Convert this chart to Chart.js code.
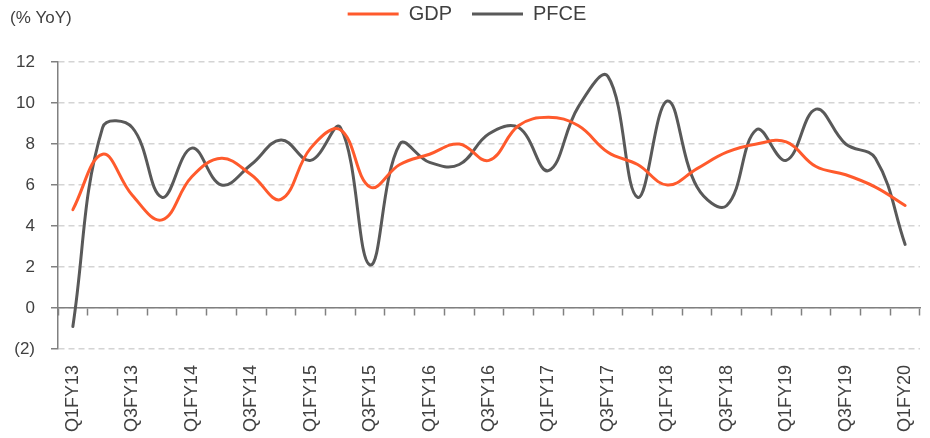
<!DOCTYPE html>
<html>
<head>
<meta charset="utf-8">
<title>GDP vs PFCE</title>
<script src="https://cdn.jsdelivr.net/npm/chart.js@4.4.1/dist/chart.umd.min.js"></script>
<style>
    html, body { margin: 0; padding: 0; background: #ffffff; }
    canvas { display: block; }
</style>
</head>
<body>
<canvas id="growthChart" width="930" height="438"></canvas>
<script>
const quarters = [
    "Q1FY13", "Q2FY13", "Q3FY13", "Q4FY13",
    "Q1FY14", "Q2FY14", "Q3FY14", "Q4FY14",
    "Q1FY15", "Q2FY15", "Q3FY15", "Q4FY15",
    "Q1FY16", "Q2FY16", "Q3FY16", "Q4FY16",
    "Q1FY17", "Q2FY17", "Q3FY17", "Q4FY17",
    "Q1FY18", "Q2FY18", "Q3FY18", "Q4FY18",
    "Q1FY19", "Q2FY19", "Q3FY19", "Q4FY19",
    "Q1FY20"
];

const gdp = [
    4.8, 7.5, 5.5, 4.3, 6.4, 7.3, 6.5, 5.3,
    7.8, 8.7, 5.9, 7.0, 7.5, 8.0, 7.2, 8.9,
    9.3, 8.9, 7.6, 7.0, 6.0, 6.8, 7.6, 8.0,
    8.1, 6.9, 6.5, 5.9, 5.0
];

const pfce = [
    -0.9, 8.8, 8.8, 5.4, 7.8, 6.0, 7.0, 8.2,
    7.2, 8.8, 2.1, 8.0, 7.1, 7.0, 8.5, 8.8,
    6.7, 9.8, 11.3, 5.4, 10.1, 5.9, 5.0, 8.7,
    7.2, 9.7, 8.0, 7.3, 3.1
];

const yMin = -2;
const yMax = 12;
const yStep = 2;

const textColor = "#404040";
const axisColor = "#808080";
const gridColor = "#d4d4d4";
const fontFamily = "'Liberation Sans', Arial, sans-serif";

Chart.defaults.font.family = fontFamily;
Chart.defaults.color = textColor;

// "(% YoY)" unit note, top left, same row as the legend
const unitLabel = {
    id: "unitLabel",
    afterDraw(chart) {
        const ctx = chart.ctx;
        ctx.save();
        ctx.font = "17px " + fontFamily;
        ctx.fillStyle = textColor;
        ctx.textBaseline = "middle";
        ctx.textAlign = "left";
        ctx.fillText("(% YoY)", 10, 18);
        ctx.restore();
    }
};

function formatTick(value) {
    return value < 0 ? `(${Math.abs(value)})` : String(value);
}

window.addEventListener("DOMContentLoaded", () => {
    const ctx = document.getElementById("growthChart").getContext("2d");

    new Chart(ctx, {
        type: "line",
        data: {
            labels: quarters,
            datasets: [
                {
                    label: "GDP",
                    data: gdp,
                    borderColor: "#ff5a2c",
                    backgroundColor: "#ff5a2c",
                    borderWidth: 3,
                    tension: 0.4,
                    pointRadius: 0,
                    borderCapStyle: "round",
                    borderJoinStyle: "round"
                },
                {
                    label: "PFCE",
                    data: pfce,
                    borderColor: "#595959",
                    backgroundColor: "#595959",
                    borderWidth: 3,
                    tension: 0.4,
                    pointRadius: 0,
                    borderCapStyle: "round",
                    borderJoinStyle: "round"
                }
            ]
        },
        options: {
            responsive: false,
            animation: false,
            layout: {
                padding: { left: 14, right: 10, top: -16, bottom: 0 }
            },
            plugins: {
                legend: {
                    display: true,
                    position: "top",
                    labels: {
                        usePointStyle: true,
                        pointStyle: "line",
                        pointStyleWidth: 51,
                        padding: 20,
                        color: textColor,
                        font: { size: 20 }
                    }
                },
                // empty title used only as a gap between legend and plot
                title: {
                    display: true,
                    text: "",
                    weight: 500,
                    font: { size: 10, lineHeight: 1 },
                    padding: { top: 18, bottom: 0 }
                },
                tooltip: { enabled: false }
            },
            scales: {
                x: {
                    type: "category",
                    offset: true,
                    position: { y: 0 },
                    grid: {
                        display: true,
                        drawOnChartArea: false,
                        offset: true,
                        tickLength: 7,
                        tickColor: axisColor,
                        tickWidth: 1.5
                    },
                    border: { color: axisColor, width: 1.5 },
                    ticks: { display: false }
                },
                xLabels: {
                    type: "category",
                    labels: quarters,
                    offset: true,
                    position: "bottom",
                    grid: { display: false },
                    border: { display: false },
                    afterFit: (scale) => {
                        scale.height = 89;
                        scale.paddingLeft = 0;
                        scale.paddingRight = 0;
                    },
                    ticks: {
                        autoSkip: false,
                        minRotation: 90,
                        maxRotation: 90,
                        padding: 8,
                        color: textColor,
                        font: { size: 18 },
                        callback: (value, index) => index % 2 === 0 ? quarters[index] : ""
                    }
                },
                y: {
                    min: yMin,
                    max: yMax,
                    afterFit: (scale) => { scale.width = 44; },
                    ticks: {
                        stepSize: yStep,
                        padding: 16,
                        color: textColor,
                        font: { size: 17 },
                        callback: formatTick
                    },
                    grid: {
                        color: gridColor,
                        lineWidth: 1.5,
                        tickColor: axisColor,
                        tickLength: 7,
                        tickWidth: 1.5
                    },
                    border: { color: axisColor, width: 1.5, dash: [6, 4] }
                }
            }
        },
        plugins: [unitLabel]
    });
});
</script>
</body>
</html>
